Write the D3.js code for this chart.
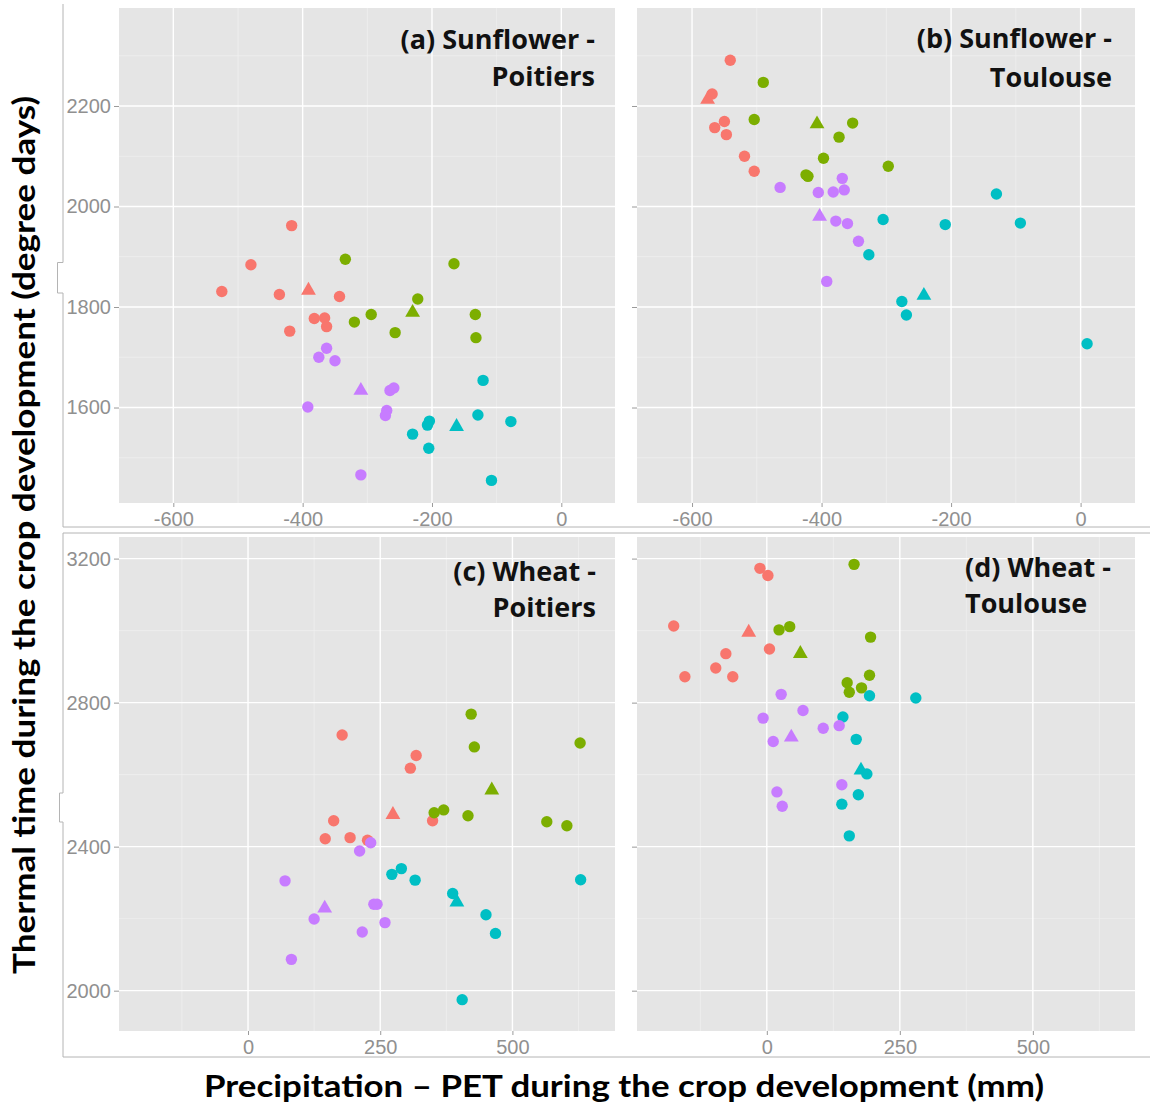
<!DOCTYPE html>
<html>
<head>
<meta charset="utf-8">
<script src="https://cdn.jsdelivr.net/npm/d3@7"></script>
<style>
  body { margin: 0; background: #fff; }
  svg { display: block; }
</style>
</head>
<body>
<div id="chart"></div>
<script>
// groups in ggplot hue order: red, green, cyan, purple ; shape c = circle, t = triangle
const groups = ["g1", "g2", "g3", "g4"];
const groupColors = ["#F8766D", "#7CAE00", "#00BFC4", "#C77CFF"];

// (a) Sunflower - Poitiers : [group, P-PET (mm), thermal time (degree days), shape]
const sunflowerPoitiers = [
  ["g1", -417, 1962, "c"], ["g1", -480, 1884, "c"], ["g1", -525, 1831, "c"], ["g1", -436, 1825, "c"],
  ["g1", -391, 1833, "t"], ["g1", -343, 1821, "c"], ["g1", -382, 1777, "c"], ["g1", -366, 1778, "c"],
  ["g1", -363, 1761, "c"], ["g1", -420, 1752, "c"],
  ["g2", -334, 1895, "c"], ["g2", -166, 1886, "c"], ["g2", -222, 1816, "c"], ["g2", -230, 1789, "t"],
  ["g2", -294, 1785, "c"], ["g2", -320, 1770, "c"], ["g2", -257, 1749, "c"], ["g2", -133, 1785, "c"],
  ["g2", -132, 1739, "c"],
  ["g3", -121, 1654, "c"], ["g3", -129, 1585, "c"], ["g3", -204, 1573, "c"], ["g3", -207, 1565, "c"],
  ["g3", -162, 1562, "t"], ["g3", -78, 1572, "c"], ["g3", -230, 1547, "c"], ["g3", -205, 1519, "c"],
  ["g3", -108, 1455, "c"],
  ["g4", -363, 1718, "c"], ["g4", -375, 1700, "c"], ["g4", -350, 1693, "c"], ["g4", -310, 1634, "t"],
  ["g4", -265, 1634, "c"], ["g4", -259, 1639, "c"], ["g4", -392, 1601, "c"], ["g4", -270, 1594, "c"],
  ["g4", -272, 1584, "c"], ["g4", -310, 1466, "c"]
];

// (b) Sunflower - Toulouse
const sunflowerToulouse = [
  ["g1", -541, 2291, "c"], ["g1", -569, 2224, "c"], ["g1", -576, 2213, "t"], ["g1", -550, 2169, "c"],
  ["g1", -565, 2157, "c"], ["g1", -547, 2143, "c"], ["g1", -519, 2100, "c"], ["g1", -504, 2070, "c"],
  ["g2", -490, 2247, "c"], ["g2", -504, 2173, "c"], ["g2", -407, 2164, "t"], ["g2", -352, 2166, "c"],
  ["g2", -373, 2138, "c"], ["g2", -397, 2096, "c"], ["g2", -297, 2080, "c"], ["g2", -424, 2063, "c"],
  ["g2", -421, 2060, "c"],
  ["g3", -130, 2025, "c"], ["g3", -305, 1974, "c"], ["g3", -209, 1964, "c"], ["g3", -93, 1967, "c"],
  ["g3", -327, 1904, "c"], ["g3", -242, 1823, "t"], ["g3", -276, 1811, "c"], ["g3", -269, 1784, "c"],
  ["g3", 10, 1727, "c"],
  ["g4", -368, 2056, "c"], ["g4", -464, 2038, "c"], ["g4", -405, 2028, "c"], ["g4", -382, 2029, "c"],
  ["g4", -365, 2033, "c"], ["g4", -403, 1980, "t"], ["g4", -378, 1971, "c"], ["g4", -360, 1966, "c"],
  ["g4", -343, 1931, "c"], ["g4", -392, 1851, "c"]
];

// (c) Wheat - Poitiers
const wheatPoitiers = [
  ["g1", 178, 2710, "c"], ["g1", 318, 2653, "c"], ["g1", 307, 2618, "c"], ["g1", 274, 2489, "t"],
  ["g1", 162, 2472, "c"], ["g1", 349, 2472, "c"], ["g1", 146, 2422, "c"], ["g1", 193, 2425, "c"],
  ["g1", 226, 2418, "c"],
  ["g2", 422, 2768, "c"], ["g2", 428, 2677, "c"], ["g2", 628, 2688, "c"], ["g2", 461, 2557, "t"],
  ["g2", 352, 2494, "c"], ["g2", 370, 2502, "c"], ["g2", 416, 2486, "c"], ["g2", 565, 2469, "c"],
  ["g2", 603, 2458, "c"],
  ["g3", 272, 2323, "c"], ["g3", 290, 2339, "c"], ["g3", 316, 2307, "c"], ["g3", 629, 2308, "c"],
  ["g3", 387, 2270, "c"], ["g3", 395, 2246, "t"], ["g3", 450, 2211, "c"], ["g3", 468, 2159, "c"],
  ["g3", 405, 1975, "c"],
  ["g4", 232, 2411, "c"], ["g4", 211, 2388, "c"], ["g4", 70, 2305, "c"], ["g4", 145, 2229, "t"],
  ["g4", 238, 2240, "c"], ["g4", 244, 2240, "c"], ["g4", 125, 2199, "c"], ["g4", 259, 2189, "c"],
  ["g4", 216, 2163, "c"], ["g4", 82, 2087, "c"]
];

// (d) Wheat - Toulouse
const wheatToulouse = [
  ["g1", -13, 3173, "c"], ["g1", 2, 3153, "c"], ["g1", -175, 3013, "c"], ["g1", -34, 2995, "t"],
  ["g1", 5, 2949, "c"], ["g1", -77, 2936, "c"], ["g1", -96, 2896, "c"], ["g1", -154, 2872, "c"],
  ["g1", -64, 2872, "c"],
  ["g2", 164, 3184, "c"], ["g2", 23, 3002, "c"], ["g2", 43, 3011, "c"], ["g2", 195, 2982, "c"],
  ["g2", 63, 2936, "t"], ["g2", 193, 2876, "c"], ["g2", 151, 2855, "c"], ["g2", 155, 2829, "c"],
  ["g2", 178, 2841, "c"],
  ["g3", 193, 2819, "c"], ["g3", 280, 2813, "c"], ["g3", 143, 2760, "c"], ["g3", 168, 2698, "c"],
  ["g3", 177, 2612, "t"], ["g3", 188, 2602, "c"], ["g3", 172, 2544, "c"], ["g3", 141, 2518, "c"],
  ["g3", 155, 2430, "c"],
  ["g4", 27, 2823, "c"], ["g4", 68, 2778, "c"], ["g4", -7, 2757, "c"], ["g4", 106, 2729, "c"],
  ["g4", 136, 2736, "c"], ["g4", 46, 2704, "t"], ["g4", 12, 2692, "c"], ["g4", 141, 2572, "c"],
  ["g4", 19, 2552, "c"], ["g4", 29, 2512, "c"]
];

const sunflowerXTicks = [-600, -400, -200, 0];
const sunflowerYTicks = [1600, 1800, 2000, 2200];
const wheatXTicks = [0, 250, 500];
const wheatYTicks = [2000, 2400, 2800, 3200];

const width = 1150;
const height = 1111;

const color = d3.scaleOrdinal().domain(groups).range(groupColors);

const svg = d3.select("#chart").append("svg")
  .attr("width", width)
  .attr("height", height)
  .attr("viewBox", [0, 0, width, height]);

// the two framed image blocks
const frameColor = "#b4b4b4";
svg.append("path")
  .attr("d", "M63,4V262.5H57.5V293H63V527H1150")
  .attr("fill", "none").attr("stroke", frameColor).attr("stroke-width", 1);
svg.append("path")
  .attr("d", "M1150,533H63V793H59.5V822H63V1057H1150")
  .attr("fill", "none").attr("stroke", frameColor).attr("stroke-width", 1);

const panels = [
  { data: sunflowerPoitiers, x0: 119, x1: 615, y0: 8, y1: 503,
    xDomain: [-684, 83], yDomain: [1410, 2395],
    xTicks: sunflowerXTicks, xMinor: [-500, -300, -100], yTicks: sunflowerYTicks, yMinor: [1500, 1700, 1900, 2100, 2300],
    yLabels: true, title: ["(a) Sunflower -", "Poitiers"], tx: 595, ty: [49, 86], anchor: "end" },
  { data: sunflowerToulouse, x0: 637, x1: 1135, y0: 8, y1: 503,
    xDomain: [-685, 84], yDomain: [1410, 2395],
    xTicks: sunflowerXTicks, xMinor: [-500, -300, -100], yTicks: sunflowerYTicks, yMinor: [1500, 1700, 1900, 2100, 2300],
    yLabels: false, title: ["(b) Sunflower -", "Toulouse"], tx: 1112, ty: [48, 87], anchor: "end" },
  { data: wheatPoitiers, x0: 119, x1: 615, y0: 537, y1: 1031,
    xDomain: [-244, 694], yDomain: [1888, 3260],
    xTicks: wheatXTicks, xMinor: [-125, 125, 375, 625], yTicks: wheatYTicks, yMinor: [2200, 2600, 3000],
    yLabels: true, title: ["(c) Wheat -", "Poitiers"], tx: 596, ty: [581, 617], anchor: "end" },
  { data: wheatToulouse, x0: 637, x1: 1135, y0: 537, y1: 1031,
    xDomain: [-244, 692], yDomain: [1888, 3260],
    xTicks: wheatXTicks, xMinor: [-125, 125, 375, 625], yTicks: wheatYTicks, yMinor: [2200, 2600, 3000],
    yLabels: false, title: ["(d) Wheat -", "Toulouse"], tx: 965, ty: [577, 613], anchor: "start" }
];

panels.forEach(p => {
  const x = d3.scaleLinear().domain(p.xDomain).range([p.x0, p.x1]);
  const y = d3.scaleLinear().domain(p.yDomain).range([p.y1, p.y0]);
  const g = svg.append("g");

  g.append("rect")
    .attr("x", p.x0).attr("y", p.y0)
    .attr("width", p.x1 - p.x0).attr("height", p.y1 - p.y0)
    .attr("fill", "#e5e5e5");

  // minor grid
  g.selectAll(".vmin").data(p.xMinor).join("line")
    .attr("x1", d => x(d)).attr("x2", d => x(d))
    .attr("y1", p.y0).attr("y2", p.y1)
    .attr("stroke", "#f0f0f0").attr("stroke-width", 0.7);
  g.selectAll(".hmin").data(p.yMinor).join("line")
    .attr("x1", p.x0).attr("x2", p.x1)
    .attr("y1", d => y(d)).attr("y2", d => y(d))
    .attr("stroke", "#f0f0f0").attr("stroke-width", 0.7);
  // major grid
  g.selectAll(".vmaj").data(p.xTicks).join("line")
    .attr("x1", d => x(d)).attr("x2", d => x(d))
    .attr("y1", p.y0).attr("y2", p.y1)
    .attr("stroke", "#fff").attr("stroke-width", 1.4);
  g.selectAll(".hmaj").data(p.yTicks).join("line")
    .attr("x1", p.x0).attr("x2", p.x1)
    .attr("y1", d => y(d)).attr("y2", d => y(d))
    .attr("stroke", "#fff").attr("stroke-width", 1.4);

  // axes
  const xAxis = g.append("g")
    .attr("transform", `translate(0,${p.y1})`)
    .call(d3.axisBottom(x).tickValues(p.xTicks).tickSize(4).tickPadding(5).tickFormat(d3.format("d")));
  const yAxis = g.append("g")
    .attr("transform", `translate(${p.x0},0)`)
    .call(d3.axisLeft(y).tickValues(p.yTicks).tickSize(5).tickPadding(3)
      .tickFormat(p.yLabels ? d3.format("d") : () => ""));
  [xAxis, yAxis].forEach(a => {
    a.select(".domain").remove();
    a.selectAll(".tick line").attr("stroke", "#9a9a9a").attr("stroke-width", 1);
    a.selectAll(".tick text")
      .attr("fill", "#909090")
      .style("font-family", "'Liberation Sans', Arial, sans-serif")
      .style("font-size", "20px");
  });
  xAxis.selectAll(".tick text").text(d => d < 0 ? "-" + Math.abs(d) : d);

  // points
  const pts = g.append("g");
  pts.selectAll("circle")
    .data(p.data.filter(d => d[3] === "c"))
    .join("circle")
    .attr("cx", d => x(d[1])).attr("cy", d => y(d[2]))
    .attr("r", 5.7)
    .attr("fill", d => color(d[0]));
  pts.selectAll("path")
    .data(p.data.filter(d => d[3] === "t"))
    .join("path")
    .attr("d", d3.symbol(d3.symbolTriangle).size(95))
    .attr("transform", d => `translate(${x(d[1])},${y(d[2])})`)
    .attr("fill", d => color(d[0]));

  // panel title
  g.selectAll(".title").data(p.title).join("text")
    .attr("x", p.tx).attr("y", (d, i) => p.ty[i])
    .attr("text-anchor", p.anchor)
    .style("font-family", "'Open Sans', sans-serif")
    .style("font-weight", 700)
    .style("font-size", "27px")
    .attr("fill", "#111")
    .text(d => d);
});

// axis titles
svg.append("text")
  .attr("transform", "translate(35,535) rotate(-90)")
  .attr("text-anchor", "middle")
  .attr("textLength", 878)
  .attr("lengthAdjust", "spacingAndGlyphs")
  .style("font-family", "Lato, sans-serif")
  .style("font-weight", 700)
  .style("font-size", "30px")
  .attr("fill", "#000")
  .text("Thermal time during the crop development (degree days)");

svg.append("text")
  .attr("x", 624).attr("y", 1097)
  .attr("text-anchor", "middle")
  .attr("textLength", 840)
  .attr("lengthAdjust", "spacingAndGlyphs")
  .style("font-family", "Lato, sans-serif")
  .style("font-weight", 700)
  .style("font-size", "30px")
  .attr("fill", "#000")
  .text("Precipitation \u2013 PET during the crop development (mm)");
</script>
</body>
</html>
